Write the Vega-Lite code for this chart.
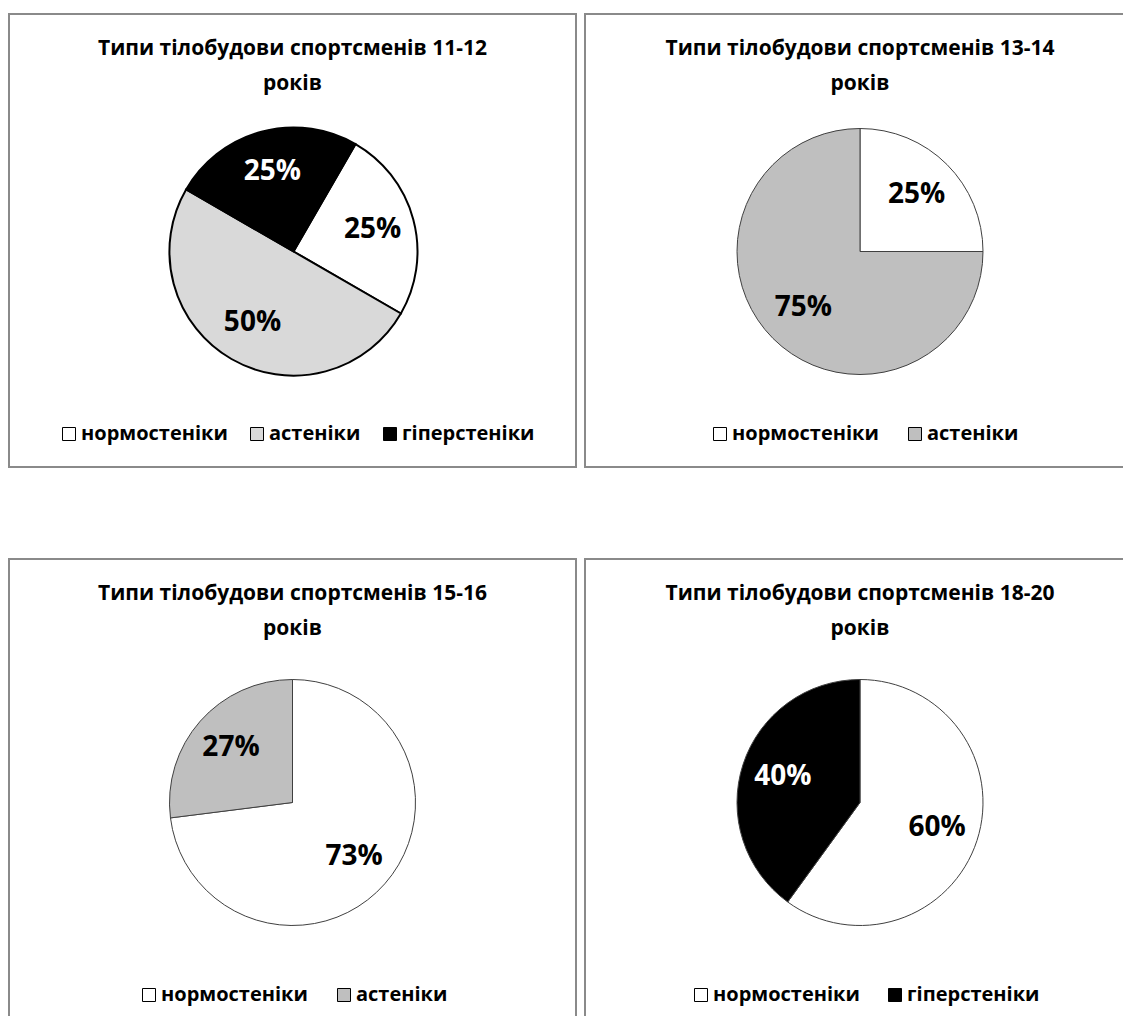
{
  "$schema": "https://vega.github.io/schema/vega-lite/v6.json",
  "background": "white",
  "padding": {"left": 8, "top": 13, "right": 0, "bottom": 0},
  "config": {
    "view": {"stroke": "#8a8a8a", "strokeWidth": 2},
    "font": "Open Sans",
    "title": {"font": "Open Sans", "fontSize": 21, "fontWeight": "bold", "color": "#000000", "anchor": "middle", "frame": "group", "lineHeight": 35, "offset": -80},
    "legend": {"orient": "none", "direction": "horizontal", "symbolType": "square", "symbolSize": 169, "symbolStrokeColor": "#000000", "symbolStrokeWidth": 1, "labelFont": "Open Sans", "labelFontSize": 20, "labelFontWeight": "bold", "labelColor": "#000000", "labelOffset": 2, "labelLimit": 0, "padding": 0, "title": null}
  },
  "vconcat": [
    {
      "hconcat": [
        {
          "width": 567, "height": 453,
          "view": {"stroke": "#8a8a8a", "strokeWidth": 2},
          "title": {"text": ["Типи тілобудови спортсменів 11-12", "років"]},
          "data": {"values": [
            {"type": "нормостеніки", "share": 0.25, "ord": 1},
            {"type": "астеніки", "share": 0.5, "ord": 2},
            {"type": "гіперстеніки", "share": 0.25, "ord": 3}
          ]},
          "encoding": {
            "theta": {"field": "share", "type": "quantitative", "stack": true, "scale": {"range": [0.5236, 6.8068]}},
            "order": {"field": "ord", "type": "quantitative"}
          },
          "layer": [
            {"mark": {"type": "arc", "outerRadius": 124, "stroke": "#000000", "strokeWidth": 2, "yOffset": 11, "xOffset": 1},
             "encoding": {"color": {"field": "type", "type": "nominal", "scale": {"domain": ["нормостеніки", "астеніки", "гіперстеніки"], "range": ["#ffffff", "#d9d9d9", "#000000"]},
               "legend": {"legendX": 50, "legendY": 410, "columnPadding": 19}}}},
            {"mark": {"type": "text", "radius": 82, "font": "Open Sans", "fontSize": 28, "fontWeight": "bold", "yOffset": 11, "xOffset": 1},
             "encoding": {"text": {"field": "share", "type": "quantitative", "format": ".0%"},
               "color": {"condition": {"test": "datum.type === 'гіперстеніки'", "value": "#ffffff"}, "value": "#000000"}}}
          ]
        },
        {
          "width": 550, "height": 453,
          "view": {"stroke": "#8a8a8a", "strokeWidth": 2},
          "title": {"text": ["Типи тілобудови спортсменів 13-14", "років"]},
          "data": {"values": [
            {"type": "нормостеніки", "share": 0.25, "ord": 1},
            {"type": "астеніки", "share": 0.75, "ord": 2}
          ]},
          "encoding": {
            "theta": {"field": "share", "type": "quantitative", "stack": true},
            "order": {"field": "ord", "type": "quantitative"}
          },
          "layer": [
            {"mark": {"type": "arc", "outerRadius": 123, "stroke": "#404040", "strokeWidth": 1, "yOffset": 11},
             "encoding": {"color": {"field": "type", "type": "nominal", "scale": {"domain": ["нормостеніки", "астеніки"], "range": ["#ffffff", "#bfbfbf"]},
               "legend": {"legendX": 125, "legendY": 410, "columnPadding": 26}}}},
            {"mark": {"type": "text", "radius": 80, "font": "Open Sans", "fontSize": 28, "fontWeight": "bold", "yOffset": 11, "color": "#000000"},
             "encoding": {"text": {"field": "share", "type": "quantitative", "format": ".0%"}}}
          ]
        }
      ],
      "spacing": 7,
      "resolve": {"scale": {"color": "independent", "theta": "independent"}, "legend": {"color": "independent"}}
    },
    {
      "hconcat": [
        {
          "width": 567, "height": 465,
          "view": {"stroke": "#8a8a8a", "strokeWidth": 2},
          "title": {"text": ["Типи тілобудови спортсменів 15-16", "років"]},
          "data": {"values": [
            {"type": "нормостеніки", "share": 0.73, "ord": 1},
            {"type": "астеніки", "share": 0.27, "ord": 2}
          ]},
          "encoding": {
            "theta": {"field": "share", "type": "quantitative", "stack": true},
            "order": {"field": "ord", "type": "quantitative"}
          },
          "layer": [
            {"mark": {"type": "arc", "outerRadius": 123, "stroke": "#404040", "strokeWidth": 1, "yOffset": 11},
             "encoding": {"color": {"field": "type", "type": "nominal", "scale": {"domain": ["нормостеніки", "астеніки"], "range": ["#ffffff", "#bfbfbf"]},
               "legend": {"legendX": 130, "legendY": 426, "columnPadding": 26}}}},
            {"mark": {"type": "text", "radius": 82, "font": "Open Sans", "fontSize": 28, "fontWeight": "bold", "yOffset": 11, "color": "#000000"},
             "encoding": {"text": {"field": "share", "type": "quantitative", "format": ".0%"}}}
          ]
        },
        {
          "width": 550, "height": 465,
          "view": {"stroke": "#8a8a8a", "strokeWidth": 2},
          "title": {"text": ["Типи тілобудови спортсменів 18-20", "років"]},
          "data": {"values": [
            {"type": "нормостеніки", "share": 0.6, "ord": 1},
            {"type": "гіперстеніки", "share": 0.4, "ord": 2}
          ]},
          "encoding": {
            "theta": {"field": "share", "type": "quantitative", "stack": true},
            "order": {"field": "ord", "type": "quantitative"}
          },
          "layer": [
            {"mark": {"type": "arc", "outerRadius": 123, "stroke": "#404040", "strokeWidth": 1, "yOffset": 11},
             "encoding": {"color": {"field": "type", "type": "nominal", "scale": {"domain": ["нормостеніки", "гіперстеніки"], "range": ["#ffffff", "#000000"]},
               "legend": {"legendX": 106, "legendY": 426, "columnPadding": 25}}}},
            {"mark": {"type": "text", "radius": 81, "font": "Open Sans", "fontSize": 28, "fontWeight": "bold", "yOffset": 11},
             "encoding": {"text": {"field": "share", "type": "quantitative", "format": ".0%"},
               "color": {"condition": {"test": "datum.type === 'гіперстеніки'", "value": "#ffffff"}, "value": "#000000"}}}
          ]
        }
      ],
      "spacing": 7,
      "resolve": {"scale": {"color": "independent", "theta": "independent"}, "legend": {"color": "independent"}}
    }
  ],
  "spacing": 90,
  "resolve": {"scale": {"color": "independent", "theta": "independent"}, "legend": {"color": "independent"}}
}
